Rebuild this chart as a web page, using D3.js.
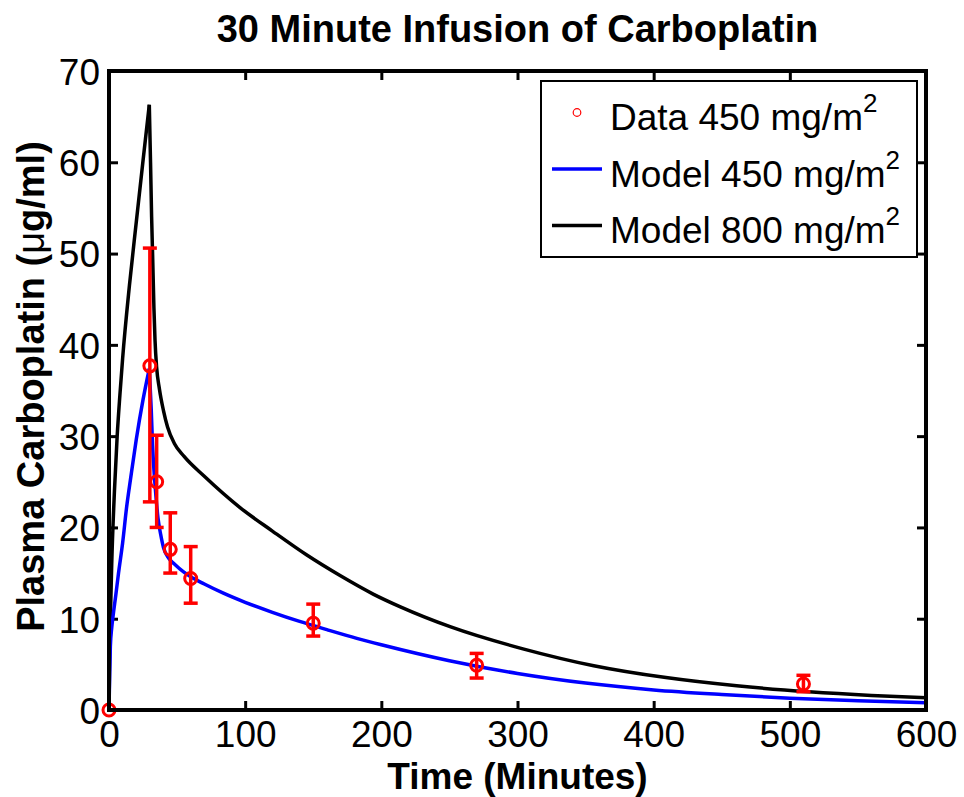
<!DOCTYPE html>
<html>
<head>
<meta charset="utf-8">
<script src="https://cdn.jsdelivr.net/npm/d3@7"></script>
<style>
  body { margin: 0; background: #fff; }
  svg text { font-family: "Liberation Sans", Helvetica, Arial, sans-serif; }
</style>
</head>
<body>
<svg id="chart" width="964" height="797"></svg>
<script>
// measured data, 450 mg/m2
const dataTime = [0, 30, 35, 45, 60, 150, 270, 510];
const dataConc = [0, 37.7, 25.0, 17.6, 14.4, 9.5, 4.9, 2.85];
const dataLow  = [0, 22.8, 20.0, 15.0, 11.7, 8.1, 3.5, 2.0];
const dataHigh = [0, 50.6, 30.1, 21.6, 17.9, 11.6, 6.2, 3.8];

// model curve 450 mg/m2
const m450Time = [0, 0.5, 1, 2, 3, 5, 7, 10, 13, 16, 20, 25, 29.6,
  31, 32, 33, 34, 36, 38, 40, 44, 48, 55, 60, 70, 84, 100, 120, 140, 160, 182,
  200, 250, 300, 350, 400, 450, 500, 550, 600];
const m450Conc = [0, 4, 7, 9, 10.3, 12.6, 15, 18.3, 22.3, 25.5, 29.6, 34.0, 37.4,
  33, 29, 26.3, 24.3, 21, 19.2, 17.8, 16.6, 16.0, 15.1, 14.6, 13.8, 12.8, 11.8, 10.7, 9.7, 8.8, 7.85,
  7.15, 5.4, 4.0, 2.95, 2.2, 1.7, 1.3, 1.02, 0.8];

// model curve 800 mg/m2
const m800Time = [0, 0.5, 1, 2, 4, 6, 8, 10, 15, 20, 25, 29.6,
  30.5, 31.3, 32, 33, 33.8, 35, 37, 40, 43, 48, 55, 70, 96, 120, 145, 170, 194, 214,
  251, 304, 356, 409, 461, 514, 560, 600];
const m800Conc = [0, 6, 10, 16, 24, 30, 34.5, 38.5, 46.5, 53.4, 60.2, 66.3,
  60, 54, 50, 44, 40.5, 37.5, 35.2, 32.8, 31, 29.2, 27.8, 25.6, 22.2, 19.6, 17.0, 14.7, 12.7, 11.3,
  9.1, 6.7, 4.85, 3.55, 2.65, 2.0, 1.6, 1.35];

const xTicks = [0, 100, 200, 300, 400, 500, 600];
const yTicks = [0, 10, 20, 30, 40, 50, 60, 70];

const legendLabels = ["Data 450 mg/m", "Model 450 mg/m", "Model 800 mg/m"];

const svg = d3.select("#chart");
const pL = 109, pR = 926, pT = 71, pB = 710;

const x = d3.scaleLinear().domain([0, 600]).range([pL, pR]);
const y = d3.scaleLinear().domain([0, 70]).range([pB, pT]);

// title
svg.append("text")
    .attr("x", (pL + pR) / 2)
    .attr("y", 42)
    .attr("text-anchor", "middle")
    .style("font-size", "38px")
    .style("font-weight", "bold")
    .text("30 Minute Infusion of Carboplatin");

// axes (ticks point inward, on all four sides)
function styleAxis(g) {
  g.select(".domain").remove();
  g.selectAll(".tick line").attr("stroke", "#000").attr("stroke-width", 3);
  g.selectAll(".tick text").style("font-size", "37px").attr("fill", "#000");
}

svg.append("g")
    .attr("transform", `translate(0,${pB})`)
    .call(d3.axisBottom(x).tickValues(xTicks).tickSizeInner(-9).tickSizeOuter(0).tickPadding(11))
    .call(styleAxis);

svg.append("g")
    .attr("transform", `translate(0,${pT})`)
    .call(d3.axisTop(x).tickValues(xTicks).tickSizeInner(-9).tickSizeOuter(0).tickFormat(""))
    .call(styleAxis);

svg.append("g")
    .attr("transform", `translate(${pL},0)`)
    .call(d3.axisLeft(y).tickValues(yTicks).tickSizeInner(-9).tickSizeOuter(0).tickPadding(9))
    .call(styleAxis)
    .selectAll(".tick text").attr("dy", "0.36em");

svg.append("g")
    .attr("transform", `translate(${pR},0)`)
    .call(d3.axisRight(y).tickValues(yTicks).tickSizeInner(-9).tickSizeOuter(0).tickFormat(""))
    .call(styleAxis);

// model curves, split at the peak so the infusion stop stays sharp
function drawModel(times, concs, color) {
  const pts = times.map((t, i) => [t, concs[i]]);
  const peak = d3.maxIndex(concs);
  const line = d3.line().x(d => x(d[0])).y(d => y(d[1])).curve(d3.curveMonotoneX);
  [pts.slice(0, peak + 1), pts.slice(peak)].forEach(seg => {
    svg.append("path")
        .datum(seg)
        .attr("fill", "none")
        .attr("stroke", color)
        .attr("stroke-width", 3.5)
        .attr("stroke-linejoin", "round")
        .attr("d", line);
  });
}
drawModel(m800Time, m800Conc, "#000");
drawModel(m450Time, m450Conc, "#0000ff");

// error bars
const bars = svg.append("g").attr("stroke", "#ff0000").attr("stroke-width", 3.5);
dataTime.forEach((t, i) => {
  if (dataHigh[i] === dataLow[i]) return;
  const cx = x(t), cap = 7;
  bars.append("line").attr("x1", cx).attr("x2", cx).attr("y1", y(dataLow[i])).attr("y2", y(dataHigh[i]));
  bars.append("line").attr("x1", cx - cap).attr("x2", cx + cap).attr("y1", y(dataLow[i])).attr("y2", y(dataLow[i]));
  bars.append("line").attr("x1", cx - cap).attr("x2", cx + cap).attr("y1", y(dataHigh[i])).attr("y2", y(dataHigh[i]));
});

svg.append("g").selectAll("circle")
    .data(dataTime)
    .join("circle")
    .attr("cx", d => x(d))
    .attr("cy", (d, i) => y(dataConc[i]))
    .attr("r", 6)
    .attr("fill", "none")
    .attr("stroke", "#ff0000")
    .attr("stroke-width", 3);

// frame
svg.append("rect")
    .attr("x", pL).attr("y", pT)
    .attr("width", pR - pL).attr("height", pB - pT)
    .attr("fill", "none")
    .attr("stroke", "#000")
    .attr("stroke-width", 4);

// axis labels
svg.append("text")
    .attr("x", (pL + pR) / 2)
    .attr("y", 789)
    .attr("text-anchor", "middle")
    .style("font-size", "37px")
    .style("font-weight", "bold")
    .text("Time (Minutes)");

const yLab = svg.append("text")
    .attr("transform", `translate(44,${(pT + pB) / 2 - 4}) rotate(-90)`)
    .attr("text-anchor", "middle")
    .style("font-size", "38px")
    .style("font-weight", "bold")
    .text("Plasma Carboplatin (");
yLab.append("tspan").style("font-weight", "normal").text("\u03bc");
yLab.append("tspan").text("g/ml)");

// legend
const lg = svg.append("g");
lg.append("rect")
    .attr("x", 541).attr("y", 81)
    .attr("width", 376).attr("height", 176)
    .attr("fill", "#fff")
    .attr("stroke", "#000")
    .attr("stroke-width", 2);

const rowBase = [130, 186.5, 243];
legendLabels.forEach((lab, i) => {
  const t = lg.append("text")
      .attr("x", 610).attr("y", rowBase[i])
      .style("font-size", "37px")
      .text(lab);
  t.append("tspan").attr("dy", -18).style("font-size", "26px").text("2");
  const my = rowBase[i] - 17.5;
  if (i === 0) {
    lg.append("circle").attr("cx", 577).attr("cy", my).attr("r", 3.8)
        .attr("fill", "none").attr("stroke", "#ff0000").attr("stroke-width", 1.2);
  } else {
    lg.append("line").attr("x1", 552).attr("x2", 602).attr("y1", my).attr("y2", my)
        .attr("stroke", i === 1 ? "#0000ff" : "#000").attr("stroke-width", 3.5);
  }
});
</script>
</body>
</html>
